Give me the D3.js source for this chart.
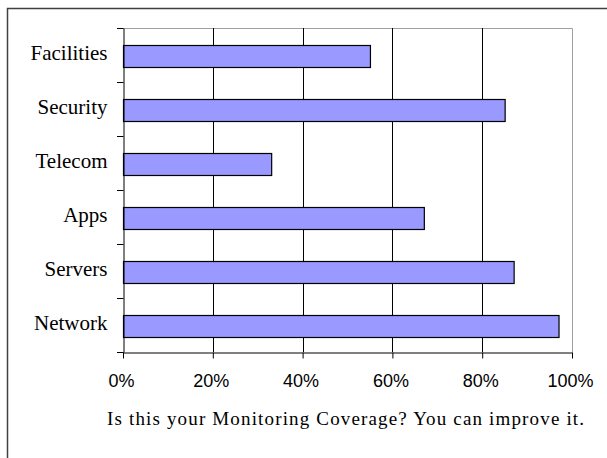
<!DOCTYPE html>
<html>
<head>
<meta charset="utf-8">
<script src="https://cdn.jsdelivr.net/npm/d3@7"></script>
<style>
  body { margin: 0; background: #fff; }
  .cat text { font-family: "Liberation Serif", "Times New Roman", serif; font-size: 21px; fill: #000; }
  .xaxis text { font-family: "Liberation Sans", Arial, sans-serif; font-size: 18px; fill: #000; }
  .title { font-family: "Liberation Serif", "Times New Roman", serif; font-size: 19px; fill: #000; }
</style>
</head>
<body>
<svg id="chart" width="607" height="458"></svg>
<script>
// data
const categories = ["Facilities", "Security", "Telecom", "Apps", "Servers", "Network"];
const coverage = [0.55, 0.85, 0.33, 0.67, 0.87, 0.97];
const xTicks = [0, 0.2, 0.4, 0.6, 0.8, 1.0];
const titleText = "Is this your Monitoring Coverage? You can improve it.";

const svg = d3.select("#chart");
const margin = { top: 28, left: 123, right: 35, bottom: 106 };
const width = 607 - margin.left - margin.right;   // 449
const height = 458 - margin.top - margin.bottom;  // 324

// outer chart frame (runs off the right/bottom edges)
svg.append("rect")
  .attr("x", 7.5).attr("y", 8.5)
  .attr("width", 640).attr("height", 500)
  .attr("fill", "none")
  .attr("stroke", "#404040")
  .attr("stroke-width", 1.5);

const g = svg.append("g")
  .attr("transform", "translate(" + margin.left + "," + margin.top + ")");

const x = d3.scaleLinear().domain([0, 1]).range([0, width]);
const y = d3.scaleBand()
  .domain(categories)
  .range([0, height])
  .paddingInner(0.59)
  .paddingOuter(0.295);
const yStep = d3.scaleBand().domain(categories).range([0, height]);

// plot border top & right (gray)
g.append("path")
  .attr("d", "M0,0.5H" + (x(1) + 0.5) + "V" + height)
  .attr("fill", "none")
  .attr("stroke", "#a0a0a0");

// gridlines
g.selectAll(".grid")
  .data(xTicks.filter(d => d > 0 && d < 1))
  .enter().append("line")
  .attr("x1", d => Math.round(x(d)) + 0.5)
  .attr("x2", d => Math.round(x(d)) + 0.5)
  .attr("y1", 0).attr("y2", height)
  .attr("stroke", "#000");

// bars
g.selectAll(".bar")
  .data(categories)
  .enter().append("rect")
  .attr("x", 0.5)
  .attr("y", d => Math.round(y(d) + 1) + 0.5)
  .attr("width", (d, i) => x(coverage[i]))
  .attr("height", Math.round(y.bandwidth()))
  .attr("fill", "#9999ff")
  .attr("stroke", "#000")
  .attr("stroke-width", 1.2);

// x axis
const xAxis = g.append("g")
  .attr("class", "xaxis")
  .attr("transform", "translate(0," + (height + 0.5) + ")")
  .call(d3.axisBottom(x).tickValues(xTicks).tickFormat(d3.format(".0%"))
    .tickSize(6).tickSizeOuter(0).tickPadding(16));
xAxis.select(".domain").attr("stroke", "#000");
xAxis.selectAll("text").attr("dx", "-2");

// y axis: labels centred on bars, ticks on category boundaries
const yAxis = g.append("g")
  .attr("class", "cat")
  .attr("transform", "translate(0.5,0)")
  .call(d3.axisLeft(y).tickSize(0).tickPadding(16));
yAxis.select(".domain").attr("stroke", "#000");
yAxis.selectAll("text").attr("dy", "0.26em");

g.selectAll(".ytick")
  .data(categories.map(d => yStep(d)).concat([height]))
  .enter().append("line")
  .attr("x1", -6).attr("x2", 0.5)
  .attr("y1", d => Math.round(d) + 0.5)
  .attr("y2", d => Math.round(d) + 0.5)
  .attr("stroke", "#000");

// caption
svg.append("text")
  .attr("class", "title")
  .attr("x", 107).attr("y", 425)
  .attr("textLength", 477)
  .attr("lengthAdjust", "spacing")
  .text(titleText);
</script>
</body>
</html>
